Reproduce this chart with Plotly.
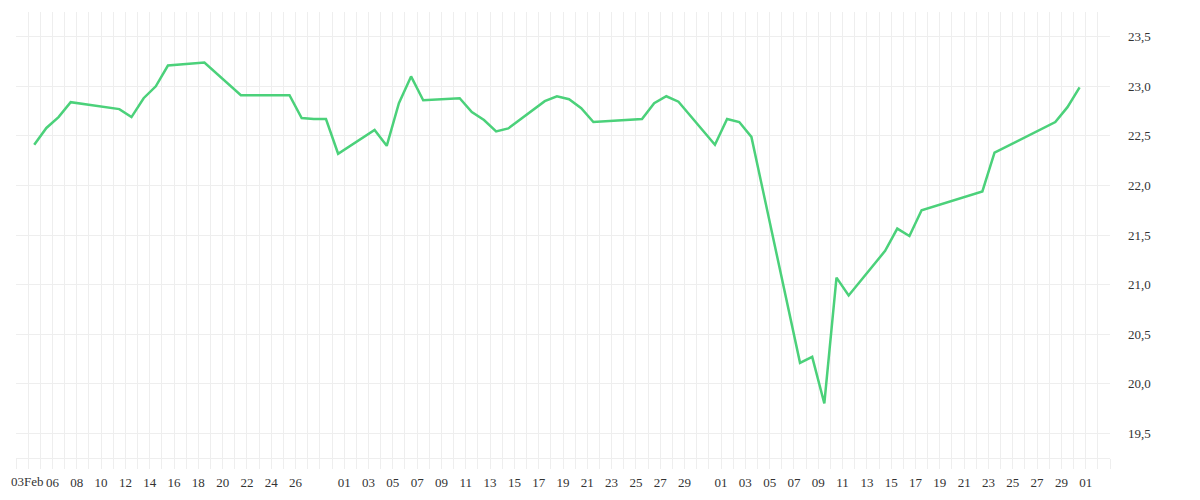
import pandas as pd
import plotly.graph_objects as go

# ---- data (daily values) ----
dates = [
    "2020-02-04", "2020-02-05", "2020-02-06", "2020-02-07", "2020-02-11", "2020-02-12",
    "2020-02-13", "2020-02-14", "2020-02-15", "2020-02-18", "2020-02-21", "2020-02-25",
    "2020-02-26", "2020-02-27", "2020-02-28", "2020-02-29", "2020-03-03", "2020-03-04",
    "2020-03-05", "2020-03-06", "2020-03-07", "2020-03-10", "2020-03-11", "2020-03-12",
    "2020-03-13", "2020-03-14", "2020-03-17", "2020-03-18", "2020-03-19", "2020-03-20",
    "2020-03-21", "2020-03-25", "2020-03-26", "2020-03-27", "2020-03-28", "2020-03-31",
    "2020-04-01", "2020-04-02", "2020-04-03", "2020-04-07", "2020-04-08", "2020-04-09",
    "2020-04-10", "2020-04-11", "2020-04-14", "2020-04-15", "2020-04-16", "2020-04-17",
    "2020-04-22", "2020-04-23", "2020-04-28", "2020-04-29", "2020-04-30",
]
values = [
    22.41, 22.58, 22.69, 22.84, 22.77, 22.69,
    22.88, 23.00, 23.21, 23.24, 22.91, 22.91,
    22.68, 22.67, 22.67, 22.32, 22.56, 22.40,
    22.83, 23.10, 22.86, 22.88, 22.74, 22.66,
    22.545, 22.575, 22.85, 22.90, 22.87, 22.78,
    22.64, 22.67, 22.83, 22.90, 22.845, 22.41,
    22.67, 22.64, 22.49, 20.21, 20.27, 19.80,
    21.07, 20.89, 21.34, 21.565, 21.49, 21.75,
    21.94, 22.33, 22.64, 22.79, 22.99,
]

tick_dates = (
    ["2020-02-03"] + ["2020-02-%02d" % d for d in [6, 8, 10, 12, 14, 16, 18, 20, 22, 24, 26]]
    + ["2020-03-%02d" % d for d in [1, 3, 5, 7, 9, 11, 13, 15, 17, 19, 21, 23, 25, 27, 29]]
    + ["2020-04-%02d" % d for d in [1, 3, 5, 7, 9, 11, 13, 15, 17, 19, 21, 23, 25, 27, 29]]
    + ["2020-05-01"]
)
tick_labels = (
    ["03Feb"] + ["06", "08", "10", "12", "14", "16", "18", "20", "22", "24", "26"]
    + ["01", "03", "05", "07", "09", "11", "13", "15", "17", "19", "21", "23", "25", "27", "29"]
    + ["01", "03", "05", "07", "09", "11", "13", "15", "17", "19", "21", "23", "25", "27", "29"]
    + ["01"]
)
y_ticks = [19.5, 20.0, 20.5, 21.0, 21.5, 22.0, 22.5, 23.0, 23.5]

# ---- styling ----
GRID = "#eeeeee"
LINE = "#4bd17a"
FONT = "Liberation Serif"
TXT = "#333333"

x = pd.to_datetime(dates) + pd.Timedelta(hours=12)  # points sit in the middle of each day cell
# the first label sits at the left plot edge; it is drawn as a left-anchored label so it stays on screen
tick_text = ["" if i == 0 else t for i, t in enumerate(tick_labels)]

fig = go.Figure(
    go.Scatter(
        x=x, y=values, mode="lines",
        line=dict(color=LINE, width=2.5),
        hoverinfo="x+y",
    )
)

fig.update_layout(
    width=1200, height=500,
    margin=dict(l=8, r=98, t=4, b=50, autoexpand=False),
    paper_bgcolor="white", plot_bgcolor="white",
    showlegend=False,
    separators=",.",
    font=dict(family=FONT, size=13, color=TXT),
)

fig.add_annotation(
    x=pd.to_datetime(tick_dates[0]), xref="x", y=0, yref="paper",
    text=tick_labels[0], showarrow=False,
    xanchor="left", yanchor="top", xshift=-7, yshift=-14,
    font=dict(family=FONT, size=13, color=TXT),
)

fig.update_xaxes(
    type="date",
    range=["2020-02-03", "2020-05-03"],
    automargin=False,
    tickmode="array",
    tickvals=pd.to_datetime(tick_dates),
    ticktext=tick_text,
    tickangle=0,
    ticklabelstandoff=2,
    ticks="outside", ticklen=10, tickcolor=GRID, tickwidth=1,
    showgrid=True, gridcolor=GRID, gridwidth=1,
    minor=dict(dtick=86400000, tick0="2020-02-03", ticks="outside", ticklen=10,
               tickcolor=GRID, showgrid=True, gridcolor=GRID, gridwidth=1),
    showline=True, linecolor=GRID, linewidth=1,
    zeroline=False,
    tickfont=dict(family=FONT, size=13, color=TXT),
)

fig.update_yaxes(
    side="right",
    range=[19.25, 23.75],
    automargin=False,
    tickmode="array",
    tickvals=y_ticks,
    tickformat=".1f",
    ticks="", ticklabelstandoff=17,
    showgrid=True, gridcolor=GRID, gridwidth=1,
    showline=False, zeroline=False,
    tickfont=dict(family=FONT, size=13, color=TXT),
)

fig.write_html("out.html")
